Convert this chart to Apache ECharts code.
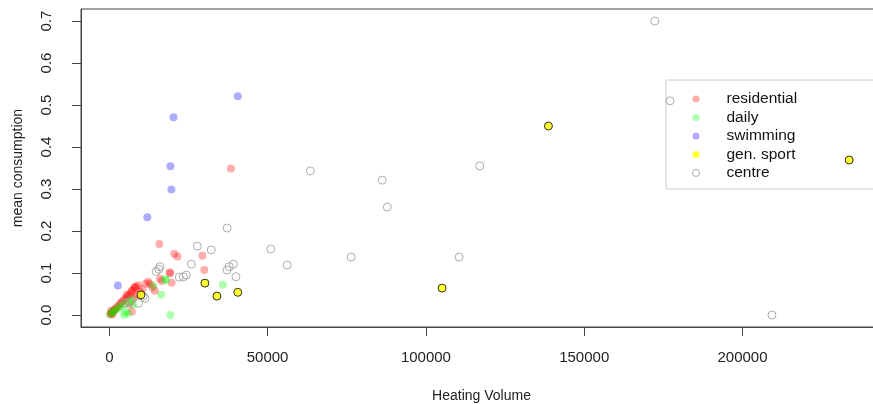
<!DOCTYPE html>
<html>
<head>
<meta charset="utf-8">
<script src="https://cdn.jsdelivr.net/npm/echarts@6/dist/echarts.min.js"></script>
<style>
html,body{margin:0;padding:0;background:#fff;}
#chart{width:873px;height:404px;}
</style>
</head>
<body>
<div id="chart"></div>
<script>
// ---- data ----
var seriesNames = ['residential', 'daily', 'swimming', 'gen. sport', 'centre'];
var xTicks = [0, 50000, 100000, 150000, 200000];
var yTicks = [0, 0.1, 0.2, 0.3, 0.4, 0.5, 0.6, 0.7];

var residential = [
  [300,0.002],[600,0.004],[900,0.006],[1200,0.009],[1500,0.011],[1900,0.014],
  [2300,0.017],[2800,0.021],[3300,0.026],[3800,0.030],[4300,0.034],[4900,0.038],
  [5500,0.043],[6100,0.047],[6700,0.052],[7300,0.058],[7900,0.064],[8400,0.068],
  [8100,0.066],[9200,0.071],[7100,0.058],[8700,0.048],[5500,0.048],[7100,0.008],
  [600,0.010],[1000,0.001],[7600,0.040],[6300,0.025],[9800,0.055],[10500,0.062],
  [11600,0.075],[12300,0.079],[12900,0.073],[13600,0.066],[14400,0.058],
  [16000,0.086],[16600,0.081],[19200,0.099],[19700,0.077],[19100,0.102],
  [15800,0.169],[20500,0.146],[21500,0.139],[29400,0.141],[30000,0.107],[38400,0.349]
];
var daily = [
  [300,0.002],[900,0.006],[1300,0.008],[1800,0.012],[2800,0.016],[3500,0.021],
  [4400,0.026],[6000,0.032],[7100,0.037],[7600,0.024],[5000,0.008],[6000,0.004],
  [4700,0.000],[13900,0.070],[16400,0.048],[17600,0.085],[17900,0.083],
  [19300,0.000],[35900,0.072]
];
var swimming = [
  [2700,0.070],[12000,0.233],[19600,0.299],[19300,0.354],[20300,0.471],[40600,0.521]
];
var genSport = [
  [10000,0.048],[30200,0.076],[34000,0.045],[40600,0.054],[105100,0.064],
  [138700,0.450],[233700,0.369]
];
var centre = [
  [5000,0.028],[6500,0.032],[9200,0.028],[11300,0.040],[10700,0.045],
  [14800,0.104],[15600,0.109],[16000,0.115],[22100,0.090],[23400,0.091],
  [24300,0.095],[25900,0.121],[27800,0.164],[32200,0.155],[37200,0.207],
  [37200,0.107],[37900,0.115],[39200,0.121],[40000,0.091],[51000,0.157],
  [56200,0.119],[63500,0.343],[76400,0.138],[86200,0.321],[87800,0.257],
  [110500,0.138],[117000,0.355],[172300,0.700],[177100,0.510],[209300,0.000]
];

// ---- chart ----
var font = 'Liberation Sans, Arial, sans-serif';
var lineCol = '#444';
var chart = echarts.init(document.getElementById('chart'), null, {renderer: 'canvas'});
var option = {
  animation: false,
  backgroundColor: '#fff',
  grid: {
    left: 81, top: 9, width: 801, height: 318,
    outerBoundsMode: 'none', containLabel: false,
    show: true, borderColor: lineCol, borderWidth: 1, backgroundColor: 'transparent'
  },
  xAxis: {
    type: 'value', min: -8940, max: 244060,
    name: 'Heating Volume', nameLocation: 'middle', nameGap: 62,
    nameTextStyle: {fontFamily: font, fontSize: 14, color: '#222'},
    axisLine: {show: true, onZero: false, lineStyle: {color: lineCol}},
    axisTick: {show: true, length: 9, customValues: xTicks, lineStyle: {color: lineCol}},
    axisLabel: {customValues: xTicks, margin: 23, fontFamily: font, fontSize: 15, color: '#222',
      formatter: function (v) { return String(v); }},
    splitLine: {show: false}
  },
  yAxis: {
    type: 'value', min: -0.0286, max: 0.7286,
    name: 'mean consumption', nameLocation: 'middle', nameGap: 56,
    nameTextStyle: {fontFamily: font, fontSize: 14, color: '#222'},
    axisLine: {show: true, onZero: false, lineStyle: {color: lineCol}},
    axisTick: {show: true, length: 9, customValues: yTicks, lineStyle: {color: lineCol}},
    axisLabel: {customValues: yTicks, rotate: 90, margin: 27, fontFamily: font, fontSize: 15, color: '#222',
      formatter: function (v) { return v.toFixed(1); }},
    splitLine: {show: false}
  },
  legend: {
    orient: 'vertical', left: 666, top: 80,
    padding: [11, 200, 8, 26],
    borderColor: '#cccccc', borderWidth: 1, backgroundColor: 'transparent',
    itemWidth: 7, itemHeight: 7, itemGap: 2.5,
    textStyle: {fontFamily: font, fontSize: 15.5, lineHeight: 16, color: '#111', padding: [0, 0, 0, 22]},
    data: [
      {name: 'residential', icon: 'circle'},
      {name: 'daily', icon: 'circle'},
      {name: 'swimming', icon: 'circle'},
      {name: 'gen. sport', icon: 'circle', itemStyle: {borderWidth: 0}},
      {name: 'centre', icon: 'circle', itemStyle: {color: 'rgba(255,255,255,0)', borderColor: '#999999', borderWidth: 1}}
    ],
    selectedMode: false
  },
  series: [
    {name: seriesNames[0], type: 'scatter', data: residential, symbol: 'circle', symbolSize: 8, z: 2,
      itemStyle: {color: 'rgba(255,0,0,0.4)', borderWidth: 0}},
    {name: seriesNames[1], type: 'scatter', data: daily, symbol: 'circle', symbolSize: 8, z: 3,
      itemStyle: {color: 'rgba(0,255,0,0.4)', borderWidth: 0}},
    {name: seriesNames[2], type: 'scatter', data: swimming, symbol: 'circle', symbolSize: 8, z: 3,
      itemStyle: {color: 'rgba(0,0,255,0.4)', borderWidth: 0}},
    {name: seriesNames[3], type: 'scatter', data: genSport, symbol: 'circle', symbolSize: 8, z: 5,
      itemStyle: {color: '#ffff00', borderColor: '#000', borderWidth: 1}},
    {name: seriesNames[4], type: 'scatter', data: centre, symbol: 'circle', symbolSize: 8, z: 4,
      itemStyle: {color: 'rgba(255,255,255,0)', borderColor: '#999999', borderWidth: 1}}
  ]
};
chart.setOption(option);
</script>
</body>
</html>
